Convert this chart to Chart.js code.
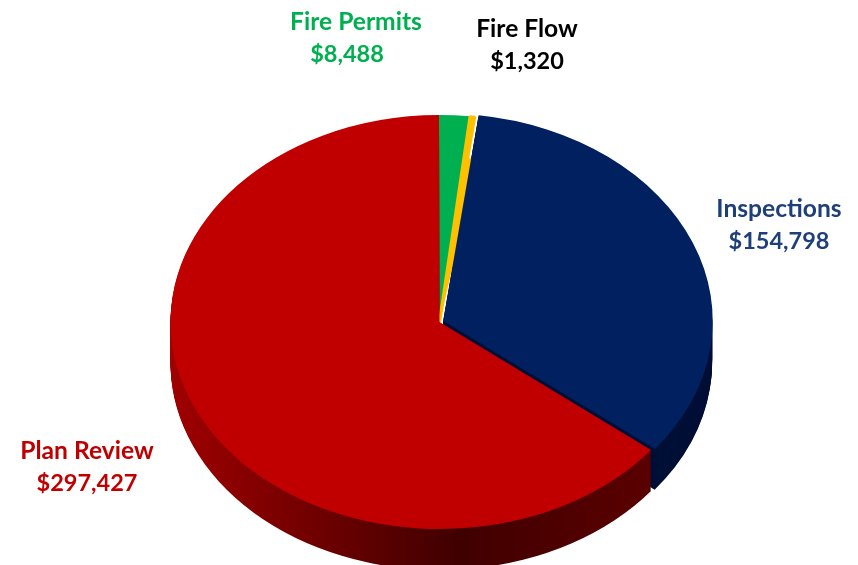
<!DOCTYPE html>
<html lang="en">
<head>
    <meta charset="UTF-8">
    <title>Fire Revenue Pie</title>
    <script src="https://cdn.jsdelivr.net/npm/chart.js"></script>
    <style>
        html, body { margin: 0; padding: 0; background: #fff; overflow: hidden; }
        #wrap { position: relative; width: 858px; height: 565px; }
        canvas { position: absolute; left: 0; top: 0; }
        .lbl { position: absolute; width: 240px; margin-left: -120px; text-align: center; font: bold 24.6px/32px Lato, sans-serif; white-space: nowrap; }
        .lbl span { display: block; position: relative; }
        .lbl span.val { font-size: 23.5px; }
        #lbl0 { left: 356px; top: 5px; color: #00B050; }
        #lbl0 span.val { left: -9px; }
        #lbl1 { left: 527px; top: 12px; color: #000; }
        #lbl2 { left: 779px; top: 192px; color: #1F3F7A; }
        #lbl3 { left: 87px; top: 434px; color: #C00000; }
    </style>
</head>
<body>
    <div id="wrap">
        <canvas id="pie" width="858" height="565"></canvas>
    </div>

    <script>
        const categories = ['Fire Permits', 'Fire Flow', 'Inspections', 'Plan Review'];
        const revenue = [8488, 1320, 154798, 297427];
        const sliceColors = ['#00B050', '#FFC000', '#002060', '#C00000'];
        const sliceOffsets = [0, 0, 16, 0];
        const sliceBorders = [0, 3, 0, 0];

        // where the tilted pie sits on the page
        const centerX = 439.5, centerY = 322, radiusX = 269, radiusY = 207, depth = 41;

        function sideFill(ctx, index) {
            if (index === 3) {
                const g = ctx.createLinearGradient(170, 0, 650, 0);
                g.addColorStop(0, '#A00000');
                g.addColorStop(0.3, '#700000');
                g.addColorStop(0.6, '#400000');
                g.addColorStop(1, '#5A0000');
                return g;
            }
            return '#000F36';
        }

        // squash the flat pie into an ellipse and draw the thickness under it
        const tiltPlugin = {
            id: 'tilt',
            beforeDatasetsDraw(chart) {
                const ctx = chart.ctx;
                const arcs = chart.getDatasetMeta(0).data;
                const first = arcs[0];
                const sx = radiusX / first.outerRadius, sy = radiusY / first.outerRadius;

                arcs.forEach((arc, i) => {
                    // slices on the back of the pie show no wall
                    if (arc.endAngle < 0) return;
                    const mid = (arc.startAngle + arc.endAngle) / 2;
                    const shift = (arc.options.offset || 0) / 4;
                    const ex = centerX + Math.cos(mid) * shift * sx;
                    const ey = centerY + Math.sin(mid) * shift * sy;
                    ctx.save();
                    ctx.fillStyle = sideFill(ctx, i);
                    for (let d = depth; d >= 1; d--) {
                        ctx.beginPath();
                        ctx.moveTo(ex, ey + d);
                        ctx.ellipse(ex, ey + d, radiusX, radiusY, 0, arc.startAngle, arc.endAngle);
                        ctx.closePath();
                        ctx.fill();
                    }
                    ctx.restore();
                });

                // the gap beside the pulled out slice only shows white near the rim
                ctx.fillStyle = sliceColors[1];
                ctx.beginPath();
                ctx.moveTo(centerX, centerY);
                ctx.ellipse(centerX, centerY, radiusX * 0.8, radiusY * 0.8, 0, arcs[1].startAngle, arcs[2].startAngle + 0.05);
                ctx.closePath();
                ctx.fill();

                ctx.save();
                ctx.translate(centerX, centerY);
                ctx.scale(sx, sy);
                ctx.translate(-first.x, -first.y);
            },
            afterDatasetsDraw(chart) {
                chart.ctx.restore();
            }
        };

        new Chart(document.getElementById('pie').getContext('2d'), {
            type: 'pie',
            data: {
                labels: categories,
                datasets: [{
                    data: revenue,
                    backgroundColor: sliceColors,
                    borderColor: sliceColors,
                    offset: sliceOffsets,
                    borderWidth: sliceBorders,
                    hoverOffset: 0
                }]
            },
            options: {
                responsive: false,
                animation: false,
                rotation: -0.1,
                events: [],
                plugins: { legend: { display: false }, tooltip: { enabled: false } }
            },
            plugins: [tiltPlugin]
        });

        // labels as page text
        const wrap = document.getElementById('wrap');
        categories.forEach((name, i) => {
            const div = document.createElement('div');
            div.className = 'lbl';
            div.id = 'lbl' + i;
            const a = document.createElement('span');
            a.textContent = name;
            const b = document.createElement('span');
            b.className = 'val';
            b.textContent = '$' + revenue[i].toLocaleString('en-US');
            div.appendChild(a);
            div.appendChild(b);
            wrap.appendChild(div);
        });
    </script>
</body>
</html>
